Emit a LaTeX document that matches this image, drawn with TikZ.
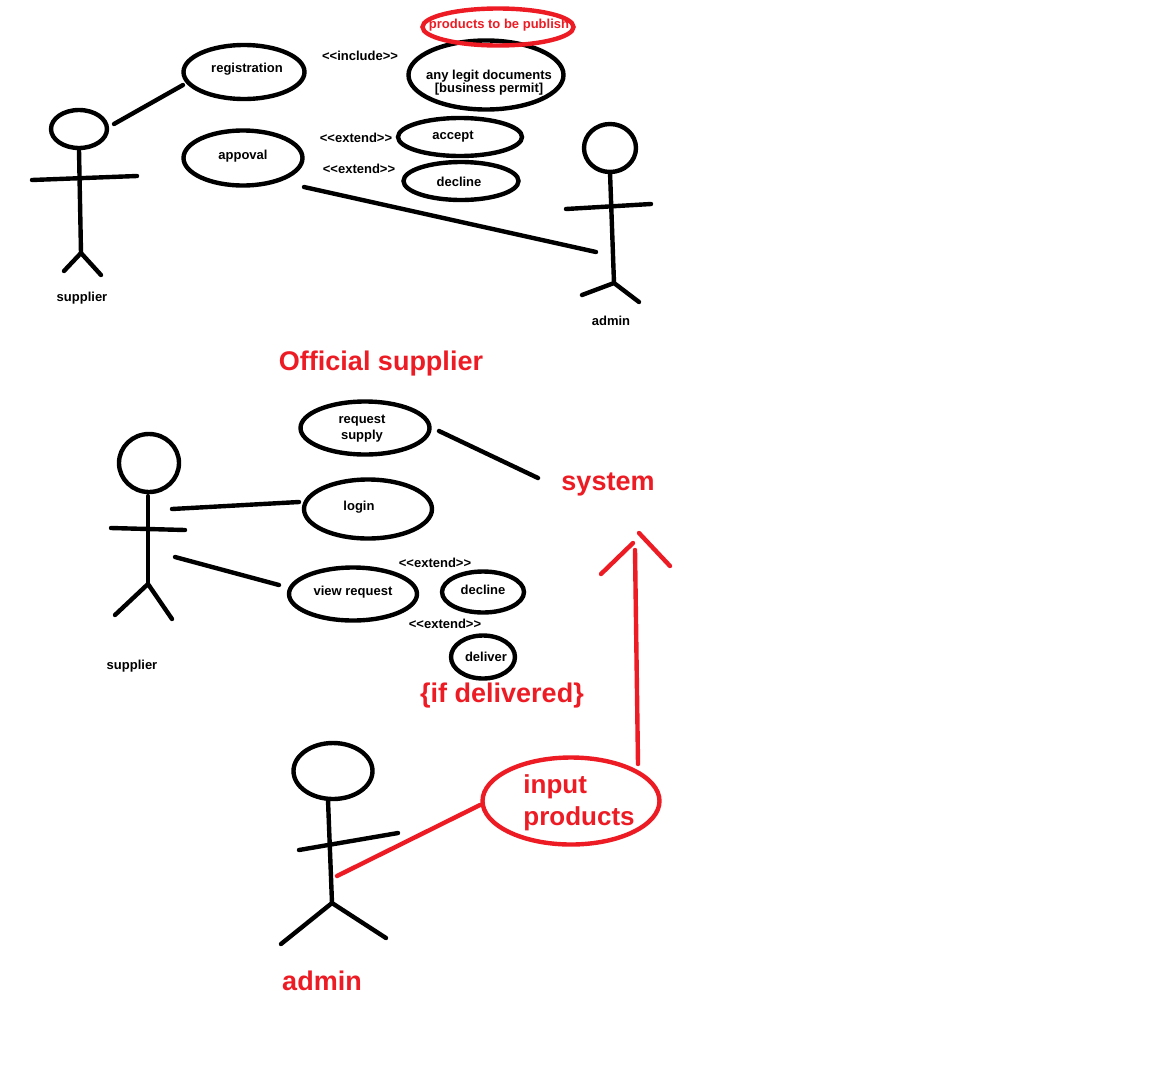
\documentclass[tikz,border=0pt]{standalone}
\usepackage{fontspec}
\setmainfont{Liberation Sans}
\usepackage{xcolor}
\usetikzlibrary{shapes.geometric}
\definecolor{ink}{HTML}{000000}
\definecolor{redink}{HTML}{ED1C24}
\tikzset{
  line/.style={draw=ink, line width=4.4pt, line cap=round},
  rline/.style={draw=redink, line width=4.4pt, line cap=round},
  usecase/.style={ellipse, draw=ink, line width=4.4pt, inner sep=0pt, align=center, font=\fontsize{13}{15}\selectfont\bfseries},
  rcase/.style={ellipse, draw=redink, line width=4.4pt, inner sep=0pt},
  lbl/.style={text=ink, inner sep=0pt, align=center, font=\fontsize{13}{15}\selectfont\bfseries},
  rsmall/.style={text=redink, inner sep=0pt, font=\fontsize{13}{15}\selectfont\bfseries},
  rlbl/.style={text=redink, inner sep=0pt, align=left, font=\fontsize{27}{33}\selectfont\bfseries}
}
\begin{document}
\begin{tikzpicture}[x=1pt,y=-1pt]
  \useasboundingbox (0,0) rectangle (1150,1082);
  % first supplier
  \node[usecase, minimum width=56pt, minimum height=38pt] (head1) at (79,129) {};
  \draw[line] (79,150)--(81,253);
  \draw[line] (32,180)--(137,176);
  \draw[line] (64,271)--(81,253)--(101,275);
  \node[lbl] (sup1) at (82,298.5) {supplier};
  % first admin
  \node[usecase, minimum width=52pt, minimum height=48pt] (head2) at (610,148) {};
  \draw[line] (610,172)--(614,283);
  \draw[line] (566,209)--(651,204);
  \draw[line] (582,295)--(614,283)--(639,302);
  \node[lbl] (adm1) at (611,321) {admin};
  % use cases of the first part
  \node[usecase, minimum width=121pt, minimum height=54pt] (reg) at (244,72) {};
  \node[lbl] at (247,69.5) {registration};
  \node[usecase, minimum width=155pt, minimum height=69pt] (docs) at (486,75) {};
  \node[lbl] at (489,82.5) {any legit documents\\[-2pt]{[}business permit{]}};
  \node[rcase, minimum width=151pt, minimum height=37pt] (prod) at (498,27) {};
  \begin{scope}
    \clip (425,10) rectangle (570,40);
    \node[rsmall] at (499,25.5) {products to be publish};
  \end{scope}
  \node[usecase, minimum width=119pt, minimum height=55pt] (appr) at (243,158) {};
  \node[lbl] at (243,156.5) {appoval};
  \node[usecase, minimum width=124pt, minimum height=38pt] (acc) at (460,137) {};
  \node[lbl] at (453,136.5) {accept};
  \node[usecase, minimum width=115pt, minimum height=38pt] (dec1) at (461,181) {};
  \node[lbl] at (459,182) {decline};
  \node[lbl] at (360,56) {<{}<include>{}>};
  \node[lbl] at (356,138) {<{}<extend>{}>};
  \node[lbl] at (359,169) {<{}<extend>{}>};
  \coordinate (s1) at (114,124);
  \coordinate (r1) at (183,85);
  \coordinate (p1) at (304,187);
  \coordinate (a1) at (596,252);
  \draw[line] (s1)--(r1);
  \draw[line] (p1)--(a1);
  \node[rlbl] (title) at (381,364) {Official supplier};
  % second supplier
  \node[usecase, minimum width=60pt, minimum height=58pt] (head3) at (149,463) {};
  \draw[line] (148,496)--(148,584);
  \draw[line] (111,528)--(185,530);
  \draw[line] (115,615)--(148,584)--(172,619);
  \node[lbl] (sup2) at (132,666) {supplier};
  \node[usecase, minimum width=129pt, minimum height=53pt] (req) at (365,428) {};
  \node[lbl] at (362,429) {request\\[1pt]supply};
  \node[usecase, minimum width=128pt, minimum height=59pt] (login) at (368,509) {};
  \node[lbl] at (359,507) {login};
  \node[usecase, minimum width=128pt, minimum height=53pt] (view) at (353,594) {};
  \node[lbl] at (353,592) {view request};
  \node[usecase, minimum width=82pt, minimum height=41pt] (dec2) at (483,592) {};
  \node[lbl] at (483,590) {decline};
  \node[usecase, minimum width=64pt, minimum height=43pt] (del) at (483,657) {};
  \node[lbl] at (486,657) {deliver};
  \node[lbl] at (435,563) {<{}<extend>{}>};
  \node[lbl] at (445,624) {<{}<extend>{}>};
  \coordinate (l1) at (299,502);
  \draw[line] (172,509)--(l1);
  \draw[line] (175,557)--(279,585);
  \node[rlbl] (ifdel) at (502,696) {\{if delivered\}};
  \node[rlbl] (sys) at (608,484) {system};
  \draw[line] (439,431)--(538,478);
  % second admin
  \node[usecase, minimum width=79pt, minimum height=56pt] (head4) at (333,771) {};
  \draw[line] (328,800)--(332,903);
  \draw[line] (299,850)--(398,833);
  \draw[line] (281,944)--(332,903)--(386,938);
  \node[rlbl] (adm2) at (322,981) {admin};
  \node[rcase, minimum width=177pt, minimum height=87pt] (input) at (571,801) {};
  \node[rlbl, font=\fontsize{26}{32}\selectfont\bfseries] at (579,803) {input\\products};
  \coordinate (a2) at (337,876);
  \coordinate (i2) at (480,805);
  \draw[rline] (a2)--(i2);
  \draw[rline] (638,764)--(635,550);
  \draw[rline] (601,574)--(633,543);
  \draw[rline] (639,533)--(670,566);
\end{tikzpicture}
\end{document}
